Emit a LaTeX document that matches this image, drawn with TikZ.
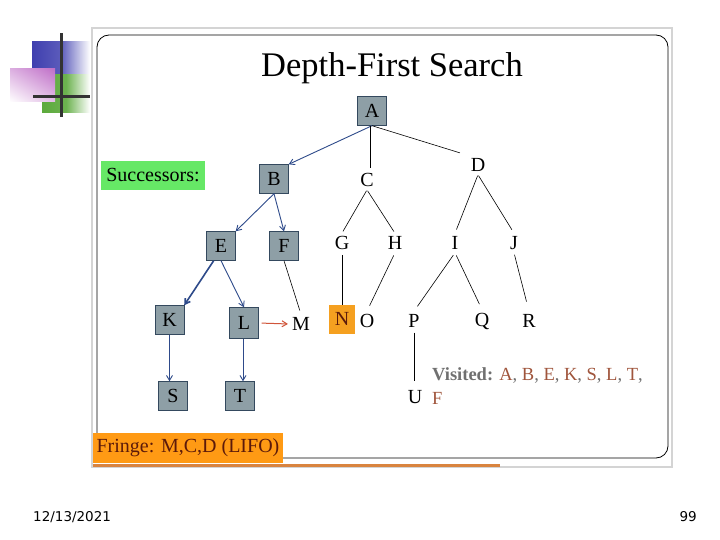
\documentclass[tikz,border=0pt]{standalone}
\usepackage{fontspec}
\setmainfont{Liberation Serif}
\newfontfamily\footfont{DejaVu Sans}
\usetikzlibrary{arrows.meta,calc,shadings}
\definecolor{nodefill}{HTML}{8E9FA6}
\definecolor{nodedraw}{HTML}{34495E}
\definecolor{arrblue}{HTML}{2E4A8A}
\definecolor{redarr}{HTML}{D0553A}
\definecolor{orangebox}{HTML}{FF9A14}
\definecolor{nbox}{HTML}{F5A020}
\definecolor{greenbox}{HTML}{66E866}
\definecolor{fringetext}{HTML}{5C1A0A}
\definecolor{visgrey}{HTML}{707070}
\definecolor{visbrown}{HTML}{A0553C}
\definecolor{panelgrey}{HTML}{D4D4D4}
\definecolor{logoblue}{HTML}{3F3FAF}
\definecolor{logogreen}{HTML}{5CAA3C}
\definecolor{logopink}{HTML}{C070C8}
\definecolor{uline}{HTML}{D9843F}
\tikzset{
  gbox/.style={draw=nodedraw, fill=nodefill, minimum width=29pt, minimum height=29pt, inner sep=0pt, font=\fontsize{20}{22}\selectfont},
  lbl/.style={inner sep=3pt, font=\fontsize{20}{22}\selectfont},
  barr/.style={draw=arrblue, line width=0.9pt, -{Straight Barb[length=5pt,width=6pt]}},
  bline/.style={draw=black, line width=0.6pt},
}
\begin{document}
\begin{tikzpicture}[x=1pt,y=-1pt]
\useasboundingbox (0,0) rectangle (720,540);
\fill[white] (0,0) rectangle (720,540);
% logo
\shade[left color=logoblue, right color=white, middle color=logoblue!85!white] (32,42) rectangle (90,76);
\shade[left color=logogreen, right color=white, middle color=logogreen!90!white] (42,75) rectangle (90,113);
\shade[upper left=logopink!55!white, upper right=logopink, lower left=white, lower right=logopink!45!white] (10,69) rectangle (55,102);
\fill[black!80] (59.5,33) rectangle (62.5,117);
\fill[black!80] (33,95.5) rectangle (90,98.5);
% panel
\draw[panelgrey, line width=1.5pt] (92,28) rectangle (672,467);
\draw[black, line width=0.8pt, rounded corners=12pt] (97,35) rectangle (668,458);
% title
\node[font=\fontsize{34.5}{38}\selectfont] (title) at (392,68) {Depth-First Search};
% boxed nodes
\node[gbox] (A) at (372,111) {A};
\node[gbox] (B) at (274,179) {B};
\node[gbox] (E) at (221,246) {E};
\node[gbox] (F) at (284,246) {F};
\node[gbox] (K) at (169.5,320) {K};
\node[gbox, minimum height=31pt] (L) at (244,323) {L};
\node[gbox] (S) at (173,396) {S};
\node[gbox] (T) at (240,396) {T};
\node[draw=nbox, fill=nbox, minimum width=25pt, minimum height=28pt, inner sep=0pt, text=fringetext, font=\fontsize{20}{22}\selectfont] (N) at (342,319) {N};
% letters
\node[lbl] (C) at (367,180) {C};
\node[lbl] (D) at (478,165) {D};
\node[lbl] (G) at (342,243) {G};
\node[lbl] (H) at (395,243) {H};
\node[lbl] (I) at (455,243) {I};
\node[lbl] (J) at (514,243) {J};
\node[lbl] (M) at (301,324) {M};
\node[lbl] (O) at (367,321) {O};
\node[lbl] (P) at (414,321) {P};
\node[lbl] (Q) at (482,321) {Q};
\node[lbl] (R) at (529,321) {R};
\node[lbl] (U) at (415,397) {U};
% boxes with text
\node[fill=greenbox, minimum width=104pt, minimum height=29pt, inner sep=0pt, font=\fontsize{20}{22}\selectfont] (succ) at (153,175.5) {Successors:};
\node[fill=orangebox, minimum width=190pt, minimum height=30pt, inner sep=0pt, text=fringetext, font=\fontsize{20}{22}\selectfont] (fringe) at (188,448) {Fringe: M,C,D (LIFO)};
\coordinate (ul1) at (93,465);
\coordinate (ul2) at (500,465);
\draw[uline, line width=3pt] (ul1) -- (ul2);
% visited
\node[anchor=north west, align=left, inner sep=0pt, font=\fontsize{18.5}{24}\selectfont] (vis) at (432,367)
 {{\bfseries\color{visgrey}Visited:} \color{visbrown}A\color{visgrey}, \color{visbrown}B\color{visgrey}, \color{visbrown}E\color{visgrey}, \color{visbrown}K\color{visgrey}, \color{visbrown}S\color{visgrey}, \color{visbrown}L\color{visgrey}, \color{visbrown}T\color{visgrey},\\ \color{visbrown}F};
% helper coordinates
\coordinate (As) at ($(A.south)+(-2,0)$);
\coordinate (Ls) at ($(L.south)+(-1,0)$);
\coordinate (Ek) at ($(E.south)!0.5!(E.south west)$);
% edges
\draw[barr] (A.south) -- (B.north east);
\draw[bline, shorten >=2pt] (As) -- (As |- C.north);
\draw[bline, shorten >=8pt] (A.south) -- (D.north west);
\draw[barr] (B.south) -- (E.north east);
\draw[barr] (B.south) -- (F.north);
\draw[bline, shorten <=1pt, shorten >=2pt] (C.south) -- (G.north);
\draw[bline, shorten <=1pt, shorten >=2pt] (C.south) -- (H.north);
\draw[bline, shorten <=1pt, shorten >=4pt] (D.south) -- (I.north);
\draw[bline, shorten <=1pt, shorten >=4pt] (D.south) -- (J.north);
\draw[barr, line width=1.6pt] (Ek) -- (K.north east);
\draw[barr] (E.south) -- (L.north);
\draw[bline, shorten >=4pt] (F.south) -- (M.north);
\draw[redarr, line width=1pt, shorten <=3pt, shorten >=1pt, -{Straight Barb[length=5pt,width=6pt]}] (L.east) -- (M.west);
\draw[bline, shorten <=2pt] (G.south) -- (N.north);
\draw[bline, shorten <=3pt, shorten >=6pt] (H.south) -- (O.north);
\draw[bline, shorten <=3pt, shorten >=6pt] (I.south) -- (P.north);
\draw[bline, shorten <=3pt, shorten >=6pt] (I.south) -- (Q.north);
\draw[bline, shorten <=2pt, shorten >=10pt] (J.south) -- (R.north);
\draw[barr] (K.south) -- (K.south |- S.north);
\draw[barr] (Ls) -- (Ls |- T.north);
\draw[bline, shorten <=2pt, shorten >=6pt] (P.south) -- (P.south |- U.north);
% footer
\node[anchor=base west, inner sep=0pt, font=\footfont\fontsize{13.5}{15}\selectfont] (date) at (33,521) {12/13/2021};
\node[anchor=base east, inner sep=0pt, font=\footfont\fontsize{13.5}{15}\selectfont] (page) at (697,521) {99};
\end{tikzpicture}
\end{document}
